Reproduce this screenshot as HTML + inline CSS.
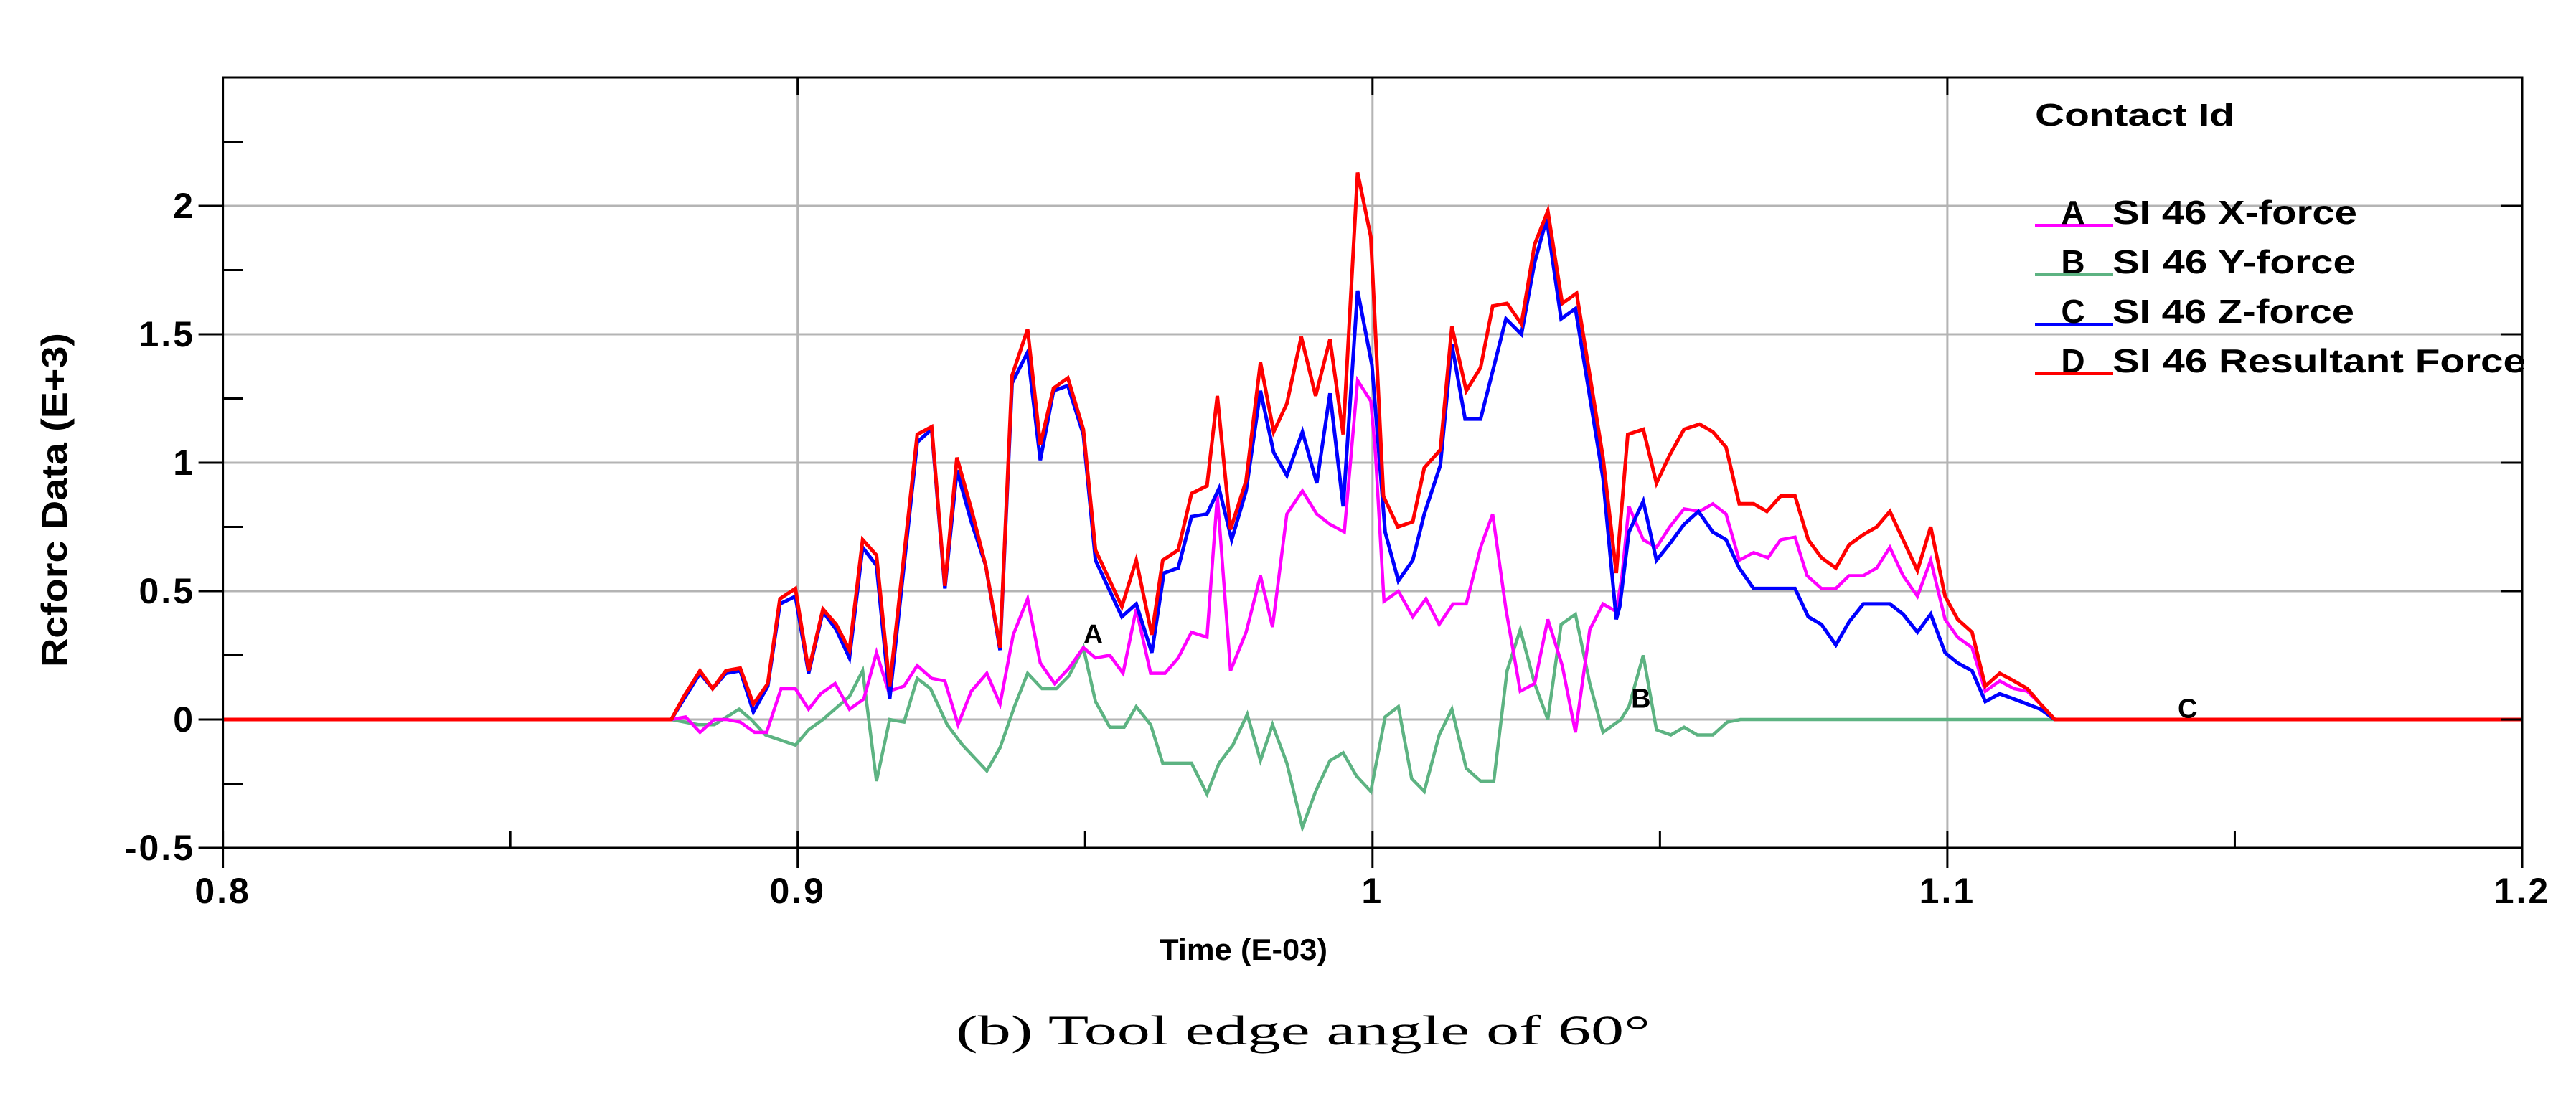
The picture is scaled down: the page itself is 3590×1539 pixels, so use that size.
<!DOCTYPE html>
<html><head><meta charset="utf-8"><style>
html,body{margin:0;padding:0;background:#fff;}
svg{display:block;}
text{font-family:"Liberation Sans",Arial,sans-serif;}
</style></head><body>
<svg id="chart" xmlns="http://www.w3.org/2000/svg" width="3590" height="1539" viewBox="0 0 3590 1539">
<rect width="3590" height="1539" fill="#fff"/>
<g id="grid"></g>
<g id="series"></g>
<g id="axes"></g>
<text x="76" y="697" transform="rotate(-90 76 697)" text-anchor="middle" dominant-baseline="central" font-weight="bold" font-size="50" textLength="466" lengthAdjust="spacingAndGlyphs">Rcforc Data (E+3)</text>
<text x="1733" y="1338" text-anchor="middle" font-weight="bold" font-size="42" textLength="234" lengthAdjust="spacingAndGlyphs">Time (E-03)</text>
<text x="1816" y="1456" text-anchor="middle" font-size="58" textLength="968" lengthAdjust="spacingAndGlyphs" style="font-family:'Liberation Serif',serif">(b) Tool edge angle of 60°</text>
<g id="legend">
<text x="2836" y="175" font-weight="bold" font-size="44" textLength="278" lengthAdjust="spacingAndGlyphs">Contact Id</text>
</g>
<g id="labels"></g>
</svg>
<script>
const xTicks = [0.8, 0.9, 1.0, 1.1, 1.2];
const xTickLabels = ["0.8", "0.9", "1", "1.1", "1.2"];
const xMinorTicks = [0.85, 0.95, 1.05, 1.15];
const yTicks = [-0.5, 0, 0.5, 1, 1.5, 2];
const yTickLabels = ["-0.5", "0", "0.5", "1", "1.5", "2"];
const yMinorTicks = [-0.25, 0.25, 0.75, 1.25, 1.75, 2.25];
const seriesNames = ["SI 46 X-force", "SI 46 Y-force", "SI 46 Z-force", "SI 46 Resultant Force"];
const seriesLetters = ["A", "B", "C", "D"];

const timeD = [0.8,0.878,0.8802,0.883,0.8852,0.8875,0.89,0.8923,0.8948,0.8969,0.8996,0.9019,0.9044,0.9067,0.909,0.9113,0.9137,0.916,0.9208,0.9233,0.9256,0.9277,0.9302,0.9327,0.9352,0.9373,0.94,0.9422,0.9445,0.947,0.9497,0.9518,0.9564,0.9589,0.9616,0.9635,0.9662,0.9685,0.9712,0.973,0.9753,0.978,0.9805,0.9828,0.9851,0.9876,0.9901,0.9926,0.9949,0.9974,0.9997,1.0019,1.0044,1.007,1.009,1.0118,1.0138,1.0145,1.0163,1.0188,1.0209,1.0234,1.0259,1.0282,1.0305,1.033,1.0355,1.0401,1.0424,1.0444,1.0471,1.0494,1.0517,1.0542,1.0569,1.0592,1.0615,1.0638,1.0663,1.0686,1.071,1.0735,1.0758,1.0781,1.0806,1.0829,1.0854,1.0877,1.09,1.0923,1.0948,1.0971,1.0996,1.1018,1.1043,1.1066,1.1091,1.1116,1.1139,1.1162,1.1187,1.2];
const valuesD = [0,0,0.09,0.19,0.12,0.19,0.2,0.06,0.14,0.47,0.51,0.19,0.43,0.37,0.27,0.7,0.64,0.13,1.11,1.14,0.52,1.02,0.82,0.6,0.28,1.34,1.52,1.07,1.29,1.33,1.13,0.66,0.44,0.62,0.33,0.62,0.66,0.88,0.91,1.26,0.74,0.93,1.39,1.12,1.23,1.49,1.26,1.48,1.11,2.13,1.88,0.87,0.75,0.77,0.98,1.05,1.53,1.46,1.28,1.37,1.61,1.62,1.54,1.85,1.98,1.62,1.66,1.02,0.57,1.11,1.13,0.92,1.03,1.13,1.15,1.12,1.06,0.84,0.84,0.81,0.87,0.87,0.7,0.63,0.59,0.68,0.72,0.75,0.81,0.7,0.58,0.75,0.48,0.39,0.34,0.13,0.18,0.15,0.12,0.06,0,0];

const timeC = [0.8,0.878,0.8802,0.883,0.8852,0.8875,0.89,0.8923,0.8948,0.8969,0.8996,0.9019,0.9044,0.9067,0.909,0.9113,0.9137,0.916,0.9208,0.9233,0.9256,0.9277,0.9302,0.9327,0.9352,0.9373,0.94,0.9422,0.9445,0.947,0.9497,0.9518,0.9564,0.9589,0.9616,0.9637,0.9662,0.9685,0.9712,0.9733,0.9755,0.978,0.9805,0.9828,0.9851,0.9878,0.9903,0.9926,0.9949,0.9974,0.9999,1.0022,1.0045,1.007,1.009,1.0118,1.0138,1.0161,1.0188,1.0232,1.0259,1.0282,1.0303,1.0328,1.0353,1.0401,1.0424,1.043,1.0446,1.0471,1.0494,1.0519,1.0542,1.0567,1.0592,1.0615,1.0638,1.0663,1.071,1.0735,1.0758,1.0781,1.0806,1.0829,1.0854,1.09,1.0923,1.0948,1.0971,1.0996,1.1018,1.1043,1.1066,1.1091,1.1116,1.1139,1.1162,1.1187,1.2];
const valuesC = [0,0,0.08,0.18,0.12,0.18,0.19,0.03,0.13,0.45,0.48,0.18,0.42,0.35,0.24,0.67,0.6,0.08,1.08,1.13,0.51,0.97,0.77,0.6,0.27,1.31,1.43,1.01,1.28,1.3,1.11,0.62,0.4,0.45,0.26,0.57,0.59,0.79,0.8,0.9,0.7,0.89,1.28,1.04,0.95,1.12,0.92,1.27,0.83,1.67,1.38,0.73,0.54,0.62,0.8,0.99,1.46,1.17,1.17,1.56,1.5,1.78,1.95,1.56,1.6,0.94,0.39,0.44,0.73,0.85,0.62,0.69,0.76,0.81,0.73,0.7,0.59,0.51,0.51,0.51,0.4,0.37,0.29,0.38,0.45,0.45,0.41,0.34,0.41,0.26,0.22,0.19,0.07,0.1,0.08,0.06,0.04,0,0];

const timeA = [0.8,0.878,0.8805,0.883,0.8855,0.8877,0.89,0.8925,0.8946,0.8971,0.8996,0.9019,0.904,0.9065,0.909,0.9115,0.9137,0.9158,0.9185,0.9208,0.9233,0.9256,0.9279,0.9302,0.9329,0.9352,0.9375,0.94,0.9422,0.9447,0.9472,0.9497,0.9518,0.9543,0.9566,0.9589,0.9614,0.9639,0.9662,0.9685,0.9712,0.973,0.9753,0.978,0.9805,0.9826,0.9851,0.9878,0.9903,0.9926,0.9951,0.9974,0.9997,1.0005,1.002,1.0045,1.007,1.0093,1.0116,1.014,1.0163,1.0188,1.0209,1.0232,1.0257,1.0282,1.0305,1.033,1.0353,1.0378,1.0401,1.0424,1.0434,1.0446,1.0471,1.0494,1.0517,1.0542,1.0569,1.0592,1.0615,1.0638,1.0663,1.0688,1.071,1.0735,1.0756,1.0781,1.0806,1.0829,1.0854,1.0877,1.09,1.0923,1.0948,1.0971,1.0996,1.1018,1.1043,1.1066,1.1091,1.1116,1.1139,1.1162,1.1187,1.2];
const valuesA = [0,0,0.01,-0.05,0,0,-0.01,-0.05,-0.05,0.12,0.12,0.04,0.1,0.14,0.04,0.08,0.26,0.11,0.13,0.21,0.16,0.15,-0.02,0.11,0.18,0.06,0.33,0.47,0.22,0.14,0.2,0.28,0.24,0.25,0.18,0.43,0.18,0.18,0.24,0.34,0.32,0.87,0.19,0.34,0.56,0.36,0.8,0.89,0.8,0.76,0.73,1.32,1.24,1.04,0.46,0.5,0.4,0.47,0.37,0.45,0.45,0.67,0.8,0.43,0.11,0.14,0.39,0.21,-0.05,0.35,0.45,0.42,0.56,0.83,0.7,0.67,0.75,0.82,0.81,0.84,0.8,0.62,0.65,0.63,0.7,0.71,0.56,0.51,0.51,0.56,0.56,0.59,0.67,0.56,0.48,0.62,0.39,0.32,0.28,0.11,0.15,0.12,0.11,0.06,0,0];

const timeB = [0.8,0.878,0.8827,0.8855,0.8898,0.8919,0.8944,0.8996,0.9019,0.9044,0.909,0.9113,0.9137,0.916,0.9185,0.9208,0.9231,0.926,0.9287,0.9329,0.9352,0.9377,0.94,0.9425,0.945,0.9472,0.9497,0.9518,0.9543,0.9568,0.9589,0.9614,0.9635,0.9685,0.9712,0.9733,0.9757,0.9782,0.9805,0.9826,0.9851,0.9878,0.9901,0.9926,0.9949,0.9972,0.9997,1.0022,1.0045,1.0068,1.009,1.0116,1.0138,1.0163,1.0188,1.0211,1.0234,1.0257,1.0282,1.0305,1.0328,1.0353,1.0378,1.0401,1.0432,1.0446,1.0471,1.0494,1.0519,1.0542,1.0565,1.0592,1.0617,1.064,1.2];
const valuesB = [0,0,-0.02,-0.02,0.04,0,-0.06,-0.1,-0.04,0,0.09,0.19,-0.24,0,-0.01,0.16,0.12,-0.02,-0.1,-0.2,-0.11,0.05,0.18,0.12,0.12,0.17,0.28,0.07,-0.03,-0.03,0.05,-0.02,-0.17,-0.17,-0.29,-0.17,-0.1,0.02,-0.16,-0.02,-0.17,-0.42,-0.28,-0.16,-0.13,-0.22,-0.28,0.01,0.05,-0.23,-0.28,-0.06,0.04,-0.19,-0.24,-0.24,0.19,0.35,0.14,0,0.37,0.41,0.14,-0.05,0,0.05,0.25,-0.04,-0.06,-0.03,-0.06,-0.06,-0.01,0,0];

const NS = "http://www.w3.org/2000/svg";
const PL = 310.6, PR = 3515, PT = 108, PB = 1182;
const X0 = 0.8, X1 = 1.2, Y0 = -0.5, Y1 = 2.5;
function xs(t){ return PL + (t - X0) / (X1 - X0) * (PR - PL); }
function ys(v){ return PB - (v - Y0) / (Y1 - Y0) * (PB - PT); }
function mk(tag, attrs, parent){
  const e = document.createElementNS(NS, tag);
  for (const k in attrs) e.setAttribute(k, attrs[k]);
  parent.appendChild(e);
  return e;
}
const grid = document.getElementById('grid');
const axes = document.getElementById('axes');
const series = document.getElementById('series');
const legend = document.getElementById('legend');
const labels = document.getElementById('labels');

xTicks.forEach((t, i) => {
  if (i > 0 && i < xTicks.length - 1) {
    const g = mk('line', {x1: xs(t), x2: xs(t), y1: PT, y2: PB, stroke: '#b4b4b4', 'stroke-width': 3}, grid);
    
    
    const tt = mk('line', {x1: xs(t), x2: xs(t), y1: PT, y2: PT + 25, stroke: '#000', 'stroke-width': 3}, axes);
    
    
  }
  const tk = mk('line', {x1: xs(t), x2: xs(t), y1: PB - 24, y2: PB + 28, stroke: '#000', 'stroke-width': 3}, axes);
  
  
  const lb = mk('text', {x: xs(t), y: PB + 77, 'text-anchor': 'middle', 'font-weight': 'bold', 'font-size': 50, 'letter-spacing': 3}, axes);
  lb.textContent = xTickLabels[i];
  
  
});
xMinorTicks.forEach(t => {
  const tk = mk('line', {x1: xs(t), x2: xs(t), y1: PB - 24, y2: PB, stroke: '#000', 'stroke-width': 3}, axes);
  
  
});
yTicks.forEach((v, i) => {
  if (v > Y0) {
    const g = mk('line', {x1: PL, x2: PR, y1: ys(v), y2: ys(v), stroke: '#b4b4b4', 'stroke-width': 3}, grid);
    
    
    const rt = mk('line', {x1: PR - 30, x2: PR, y1: ys(v), y2: ys(v), stroke: '#000', 'stroke-width': 3}, axes);
    
    
  }
  const tk = mk('line', {x1: PL - 34, x2: PL, y1: ys(v), y2: ys(v), stroke: '#000', 'stroke-width': 3}, axes);
  
  
  const lb = mk('text', {x: 272, y: ys(v), 'text-anchor': 'end', 'dominant-baseline': 'central', 'font-weight': 'bold', 'font-size': 50, 'letter-spacing': 3}, axes);
  lb.textContent = yTickLabels[i];
  
  
});
yMinorTicks.forEach(v => {
  const tk = mk('line', {x1: PL, x2: PL + 28, y1: ys(v), y2: ys(v), stroke: '#000', 'stroke-width': 3}, axes);
  
  
});
const frame = mk('rect', {x: PL, y: PT, width: PR - PL, height: PB - PT, fill: 'none', stroke: '#000', 'stroke-width': 3}, axes);



const seriesDefs = [
  {t: timeB, v: valuesB, color: '#5db382', w: 4.5, name: 'series-b-y-force'},
  {t: timeA, v: valuesA, color: '#ff00ff', w: 4.5, name: 'series-a-x-force'},
  {t: timeC, v: valuesC, color: '#0000ff', w: 5, name: 'series-c-z-force'},
  {t: timeD, v: valuesD, color: '#ff0000', w: 5, name: 'series-d-resultant-force'}
];
seriesDefs.forEach(s => {
  const pts = s.t.map((t, i) => xs(t).toFixed(1) + ',' + ys(s.v[i]).toFixed(1)).join(' ');
  const p = mk('polyline', {points: pts, fill: 'none', stroke: s.color, 'stroke-width': s.w, 'stroke-linejoin': 'miter'}, series);
  
  
});

const legendColors = ['#ff00ff', '#5db382', '#0000ff', '#ff0000'];
const legendWidths = [341, 339, 337, 576];
seriesNames.forEach((n, i) => {
  const y = 314 + i * 69;
  const ln = mk('line', {x1: 2836, x2: 2945, y1: y, y2: y, stroke: legendColors[i], 'stroke-width': 4}, legend);
  
  
  const lt = mk('text', {x: 2889, y: y - 2, 'text-anchor': 'middle', 'font-weight': 'bold', 'font-size': 46}, legend);
  lt.textContent = seriesLetters[i];
  
  
  const tx = mk('text', {x: 2944, y: y - 2, 'font-weight': 'bold', 'font-size': 46, textLength: legendWidths[i], lengthAdjust: 'spacingAndGlyphs'}, legend);
  tx.textContent = n;
  
  
});

const curveLabelText = ['A', 'B', 'C'];
const curveLabelT = [0.9514, 1.0467, 1.1418];
const curveLabelV = [0.33, 0.08, 0.04];
curveLabelText.forEach((s, i) => {
  const t = mk('text', {x: xs(curveLabelT[i]), y: ys(curveLabelV[i]), 'text-anchor': 'middle', 'dominant-baseline': 'central', 'font-weight': 'bold', 'font-size': 38}, labels);
  t.textContent = s;
  
  
});
</script>
</body></html>
